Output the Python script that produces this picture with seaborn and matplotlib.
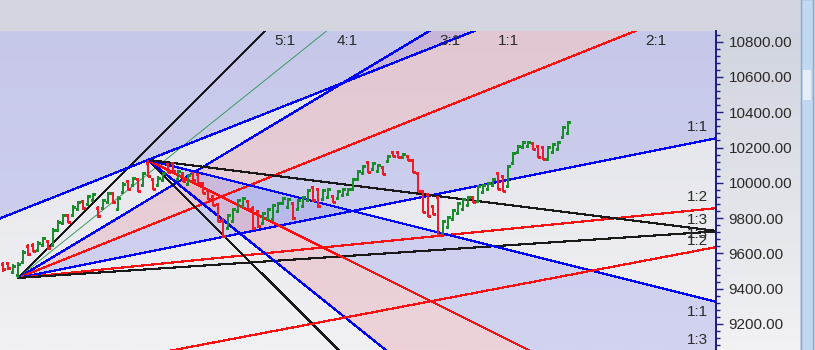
import numpy as np
import matplotlib
matplotlib.use("Agg")
import matplotlib.pyplot as plt
import seaborn as sns
from matplotlib.ticker import MultipleLocator, FormatStrFormatter
from matplotlib.patches import Rectangle

# ---------------- data ----------------
bar_high = [9551, 9551, 9540, 9551, 9619, 9653, 9659, 9670, 9693, 9676,
            9744, 9789, 9823, 9823, 9874, 9897, 9903, 9931, 9942, 9869,
            9908, 9948, 9948, 9925, 10005, 10016, 10033, 10027, 10061, 10129,
            10027, 10039, 10061, 10112, 10118, 10073, 10061, 10050, 10061, 10056,
            10005, 9965, 9931, 9886, 9801, 9823, 9857, 9908, 9920, 9903,
            9869, 9846, 9835, 9857, 9880, 9891, 9920, 9914, 9891, 9908,
            9925, 9965, 9982, 9971, 9965, 9971, 9931, 9959, 9971, 9971,
            10027, 10073, 10101, 10124, 10118, 10107, 10095, 10158, 10180, 10180,
            10169, 10158, 10135, 10061, 9959, 9942, 9874, 9925, 9789, 9812,
            9852, 9891, 9914, 9925, 9925, 9988, 9993, 10005, 10027, 10061,
            10044, 10101, 10175, 10214, 10237, 10237, 10231, 10214, 10209, 10209,
            10226, 10237, 10322, 10350]
bar_low = [9495, 9506, 9483, 9461, 9540, 9585, 9608, 9613, 9636, 9619,
           9642, 9721, 9767, 9772, 9806, 9840, 9846, 9874, 9891, 9801,
           9846, 9880, 9880, 9840, 9942, 9959, 9976, 9948, 9982, 10033,
           9959, 9982, 10010, 10056, 10061, 10016, 10005, 9988, 10010, 9993,
           9937, 9903, 9869, 9778, 9687, 9738, 9778, 9835, 9863, 9846,
           9733, 9744, 9767, 9795, 9789, 9835, 9880, 9857, 9789, 9846,
           9863, 9897, 9891, 9857, 9903, 9914, 9886, 9908, 9925, 9931,
           9959, 10016, 10050, 10056, 10073, 10061, 10044, 10118, 10146, 10141,
           10141, 10124, 10056, 9948, 9829, 9806, 9818, 9699, 9710, 9744,
           9789, 9823, 9846, 9869, 9886, 9891, 9942, 9959, 9982, 9959,
           9948, 9976, 10107, 10169, 10197, 10203, 10186, 10141, 10129, 10129,
           10169, 10186, 10254, 10277]
bar_open = [9540, 9545, 9495, 9475, 9551, 9642, 9650, 9620, 9645, 9670,
            9650, 9730, 9775, 9815, 9815, 9850, 9895, 9880, 9900, 9860,
            9855, 9890, 9940, 9850, 9950, 10010, 9985, 10020, 9990, 10115,
            10020, 9990, 10015, 10105, 10110, 10022, 10055, 9995, 10055, 10050,
            9998, 9960, 9925, 9880, 9790, 9745, 9785, 9840, 9870, 9898,
            9860, 9840, 9775, 9800, 9795, 9840, 9885, 9865, 9885, 9852,
            9870, 9905, 9975, 9965, 9910, 9920, 9925, 9912, 9930, 9935,
            9965, 10022, 10055, 10118, 10078, 10066, 10090, 10122, 10175, 10175,
            10145, 10152, 10130, 10055, 9952, 9935, 9868, 9918, 9715, 9750,
            9795, 9830, 9852, 9874, 9920, 9897, 9948, 9965, 9988, 10055,
            10038, 9982, 10112, 10175, 10203, 10209, 10226, 10209, 10203, 10135,
            10175, 10192, 10260, 10283]
bar_close = [9512, 9517, 9530, 9540, 9608, 9596, 9615, 9660, 9685, 9630,
             9735, 9780, 9815, 9780, 9865, 9890, 9855, 9925, 9935, 9810,
             9900, 9940, 9890, 9915, 9995, 9965, 10025, 9955, 10055, 10040,
             9965, 10030, 10055, 10060, 10068, 10065, 10010, 10045, 10015, 10000,
             9942, 9908, 9875, 9785, 9700, 9815, 9850, 9900, 9912, 9850,
             9745, 9755, 9828, 9850, 9872, 9885, 9915, 9908, 9800, 9900,
             9918, 9958, 9900, 9868, 9958, 9965, 9890, 9952, 9965, 9965,
             10020, 10065, 10095, 10062, 10112, 10100, 10050, 10152, 10150, 10146,
             10165, 10128, 10062, 9955, 9835, 9812, 9822, 9705, 9782, 9806,
             9846, 9885, 9908, 9918, 9890, 9982, 9988, 9999, 10022, 9965,
             9955, 10095, 10169, 10209, 10231, 10231, 10190, 10146, 10135, 10203,
             10220, 10231, 10316, 10345]

# Gann fan from the swing low
fan_a_origin = (3, 9461)
fan_a_unit = 5.67
fan_a_ratios = [5, 4, 3, 2, 1, 1 / 2, 1 / 3]
fan_a_labels = ["5:1", "4:1", "3:1", "2:1", "1:1", "1:2", "1:3"]
fan_a_colors = ["#1a1a1a", "#3c9a5f", "#0000ff", "#ff1010", "#0000ff", "#ff1010", "#1a1a1a"]

# Gann fan from the swing high (pointing down)
fan_b_origin = (29, 10130)
fan_b_unit = 7.08
fan_b_ratios = [4, 3.2, 2, 1, 1 / 2]
fan_b_labels = ["4:1", "3:1", "2:1", "1:1", "1:2"]
fan_b_colors = ["#1a1a1a", "#0000ff", "#ff1010", "#0000ff", "#1a1a1a"]

# extra trend lines
rise_line_slope = 11.2           # through the swing high
channel_anchor = (80, 9299)
channel_slope = 5.38

y_ticks = [9200, 9400, 9600, 9800, 10000, 10200, 10400, 10600, 10800]

# ---------------- figure ----------------
sns.set_style("white")
plt.rcParams["font.family"] = ["Liberation Sans", "DejaVu Sans"]

W, H = 815, 350
fig = plt.figure(figsize=(W / 100, H / 100), dpi=100, facecolor="#d4d7df")

# chrome (toolbar / right panel / scrollbar)
bg = fig.add_axes([0, 0, 1, 1])
bg.set_zorder(-10)
bg.set_xlim(0, W)
bg.set_ylim(H, 0)
bg.axis("off")
grad = np.linspace(0, 1, 256)[:, None, None]
top_c = np.array([208, 212, 222]) / 255
bot_c = np.array([242, 242, 244]) / 255
panel = top_c * (1 - grad) + bot_c * grad
bg.imshow(panel, extent=[716, 800, H, 31], aspect="auto", zorder=0)
bg.add_patch(Rectangle((0, 0), W, 31, color="#d3d6de", zorder=1))
bg.add_patch(Rectangle((801, -1), 12, H + 2, facecolor="#c2d8f0", edgecolor="#86a9d4", lw=1, zorder=2))
bg.add_patch(Rectangle((803, 70), 8, 30, facecolor="#e4eef9", edgecolor="none", zorder=3))

xmin, xmax = -0.6, 142.6
ymin, ymax = 9052.6, 10860.6

ax = fig.add_axes([0, 0, 716 / W, 319 / H])
ax.set_zorder(1)

# plot background gradient
pg_top = np.array([224, 225, 233]) / 255
pg_bot = np.array([241, 241, 244]) / 255
pgrad = pg_top * (1 - grad) + pg_bot * grad
ax.imshow(pgrad, extent=[xmin, xmax, ymin, ymax], aspect="auto", zorder=0)

LAV = (0.55, 0.56, 0.92)
PINK = (0.90, 0.55, 0.62)

def fan_line(origin, unit, ratio, sign, xs):
    return origin[1] + sign * ratio * unit * (xs - origin[0])

# fills of fan A
xa = np.linspace(fan_a_origin[0], xmax + 5, 300)
ax.fill_between(xa, fan_line(fan_a_origin, fan_a_unit, 3, 1, xa),
                fan_line(fan_a_origin, fan_a_unit, 2, 1, xa),
                color=PINK, alpha=0.30, lw=0, zorder=1)
ax.fill_between(xa, fan_line(fan_a_origin, fan_a_unit, 2, 1, xa),
                fan_line(fan_a_origin, fan_a_unit, 1, 1, xa),
                color=LAV, alpha=0.30, lw=0, zorder=1)
# fills of fan B
xb = np.linspace(fan_b_origin[0], xmax + 5, 300)
ax.fill_between(xb, fan_line(fan_b_origin, fan_b_unit, 3.2, -1, xb),
                fan_line(fan_b_origin, fan_b_unit, 2, -1, xb),
                color=PINK, alpha=0.30, lw=0, zorder=1)
ax.fill_between(xb, fan_line(fan_b_origin, fan_b_unit, 2, -1, xb),
                fan_line(fan_b_origin, fan_b_unit, 1, -1, xb),
                color=LAV, alpha=0.30, lw=0, zorder=1)
# region above the rising line through the high
xr = np.linspace(xmin - 5, xmax + 5, 300)
rise = fan_b_origin[1] + rise_line_slope * (xr - fan_b_origin[0])
ax.fill_between(xr, rise, ymax + 3000, color=LAV, alpha=0.30, lw=0, zorder=1)

# lines
xend = xmax + 5
LW = 0.85
for r, c in zip(fan_a_ratios, fan_a_colors):
    xs = np.array([fan_a_origin[0], xend])
    green = c == "#3c9a5f"
    sns.lineplot(x=xs, y=fan_line(fan_a_origin, fan_a_unit, r, 1, xs), color=c,
                 lw=0.7 if green else LW, ax=ax, antialiased=green, zorder=2)
for r, c in zip(fan_b_ratios, fan_b_colors):
    xs = np.array([fan_b_origin[0], xend])
    sns.lineplot(x=xs, y=fan_line(fan_b_origin, fan_b_unit, r, -1, xs), color=c,
                 lw=LW, ax=ax, antialiased=False, zorder=2)
xs = np.array([xmin - 5, xend])
sns.lineplot(x=xs, y=fan_b_origin[1] + rise_line_slope * (xs - fan_b_origin[0]),
             color="#0000ff", lw=LW, ax=ax, antialiased=False, zorder=2)
sns.lineplot(x=xs, y=channel_anchor[1] + channel_slope * (xs - channel_anchor[0]),
             color="#ff1010", lw=LW, ax=ax, antialiased=False, zorder=2)

# OHLC bars
idx = np.arange(len(bar_close))
o = np.array(bar_open); c = np.array(bar_close)
cols = np.where(c >= o, "#1b8c2c", "#ee1c24")
ax.vlines(idx, bar_low, bar_high, colors=cols, lw=1.1, zorder=3, antialiased=False)
ax.hlines(o, idx - 0.36, idx, colors=cols, lw=0.9, zorder=3, antialiased=False)
ax.hlines(c, idx, idx + 0.36, colors=cols, lw=0.9, zorder=3, antialiased=False)

# ratio labels
txt_kw = dict(fontsize=11, color="#2a2a2a", zorder=5)
top_tr = ax.get_xaxis_transform()
for r, lab in zip(fan_a_ratios[:4], fan_a_labels[:4]):
    xt = fan_a_origin[0] + (ymax - fan_a_origin[1]) / (r * fan_a_unit)
    ax.text(xt + 2.0, 0.968, lab, transform=top_tr, ha="left", va="center", **txt_kw)
xt = fan_b_origin[0] + (ymax - fan_b_origin[1]) / rise_line_slope
ax.text(xt + 4.8, 0.968, "1:1", transform=top_tr, ha="left", va="center", **txt_kw)

right_tr = ax.get_yaxis_transform()
xr_lab = 708 / 716
for r, lab in zip(fan_a_ratios[4:], fan_a_labels[4:]):
    ye = fan_line(fan_a_origin, fan_a_unit, r, 1, xmax)
    ax.text(xr_lab, ye + 62, lab, transform=right_tr, ha="right", va="center", **txt_kw)
ax.text(xr_lab, 9712, "1:3", transform=right_tr, ha="right", va="center", **txt_kw)
for r, lab in zip(fan_b_ratios[3:], fan_b_labels[3:]):
    ye = fan_line(fan_b_origin, fan_b_unit, r, -1, xmax)
    ax.text(xr_lab, ye - 56, lab, transform=right_tr, ha="right", va="center", **txt_kw)
ax.text(xr_lab, 9109, "1:3", transform=right_tr, ha="right", va="center", **txt_kw)

# axes styling
ax.set_xlim(xmin, xmax)
ax.set_ylim(ymin, ymax)
ax.set_xticks([])
ax.set_xlabel("")
ax.set_ylabel("")
for s in ["left", "top", "bottom"]:
    ax.spines[s].set_visible(False)
ax.spines["right"].set_color("#1c1c84")
ax.spines["right"].set_linewidth(1.4)
ax.yaxis.tick_right()
ax.set_yticks(y_ticks)
ax.yaxis.set_major_formatter(FormatStrFormatter("%.2f"))
ax.yaxis.set_minor_locator(MultipleLocator(40))
ax.tick_params(axis="y", which="major", direction="out", length=5, width=1,
               color="#1c1c84", labelsize=11, labelcolor="#2a2a2a", pad=4)
ax.tick_params(axis="y", which="minor", direction="out", length=3, width=1,
               color="#1c1c84")
ax.grid(False)
if ax.get_legend() is not None:
    ax.get_legend().remove()

fig.savefig("out.png", dpi=100, facecolor=fig.get_facecolor())
